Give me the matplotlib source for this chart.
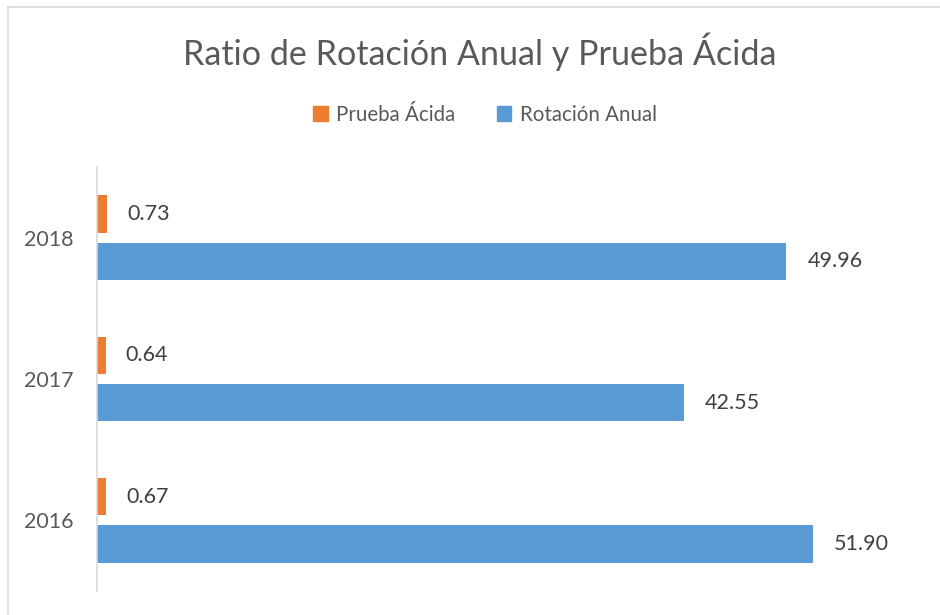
import matplotlib
matplotlib.use("Agg")
import matplotlib.pyplot as plt
from matplotlib.lines import Line2D
from matplotlib.patches import Patch

years = ["2016", "2017", "2018"]
prueba_acida = [0.67, 0.64, 0.73]
rotacion_anual = [51.90, 42.55, 49.96]

plt.rcParams['font.family'] = ['Lato', 'DejaVu Sans']
txt = "#595959"
orange = "#ED7D31"
blue = "#5B9BD5"

fig = plt.figure(figsize=(9.4, 6.15), dpi=100)
W, H = 940, 615
ax = fig.add_axes([97 / W, 1 - 591 / H, (925 - 97) / W, (591 - 167) / H])

y = list(range(len(years)))
h = 0.263
off = 0.167
ax.barh([v + off for v in y], prueba_acida, height=h, color=orange, label="Prueba Ácida")
ax.barh([v - off for v in y], rotacion_anual, height=h, color=blue, label="Rotación Anual")

for i in y:
    ax.annotate(f"{prueba_acida[i]:.2f}", (prueba_acida[i], i + off), xytext=(20, 0),
                textcoords="offset pixels", va="center", ha="left", fontsize=15.5, color="#404040")
    ax.annotate(f"{rotacion_anual[i]:.2f}", (rotacion_anual[i], i - off), xytext=(21, 0),
                textcoords="offset pixels", va="center", ha="left", fontsize=15.5, color="#404040")

ax.set_xlim(0, 60)
ax.set_ylim(-0.5, 2.5)
ax.set_yticks(y)
ax.set_yticklabels(years, fontsize=15.5, color=txt)
ax.tick_params(axis="y", length=0, pad=17)
ax.set_xticks([])
for s in ["top", "right", "bottom"]:
    ax.spines[s].set_visible(False)
ax.spines["left"].set_color("#d9d9d9")
ax.spines["left"].set_linewidth(1.2)

fig.text(480 / W, 1 - 52 / H, "Ratio de Rotación Anual y Prueba Ácida", ha="center", va="center",
         fontsize=24.6, color=txt)

handles = [Patch(color=orange), Patch(color=blue)]
fig.legend(handles, ["Prueba Ácida", "Rotación Anual"], loc="center", bbox_to_anchor=(485 / W, 1 - 115 / H),
           ncol=2, frameon=False, fontsize=14.8, labelcolor=txt, handlelength=0.72, handleheight=0.72,
           handletextpad=0.4, columnspacing=2.0)

fig.lines.append(Line2D([8 / W, 1.0], [1 - 7 / H, 1 - 7 / H], transform=fig.transFigure,
                        color="#d9d9d9", linewidth=1.2))
fig.lines.append(Line2D([8 / W, 8 / W], [0, 1 - 7 / H], transform=fig.transFigure,
                        color="#d9d9d9", linewidth=1.2))

fig.savefig("out.png", dpi=100)
